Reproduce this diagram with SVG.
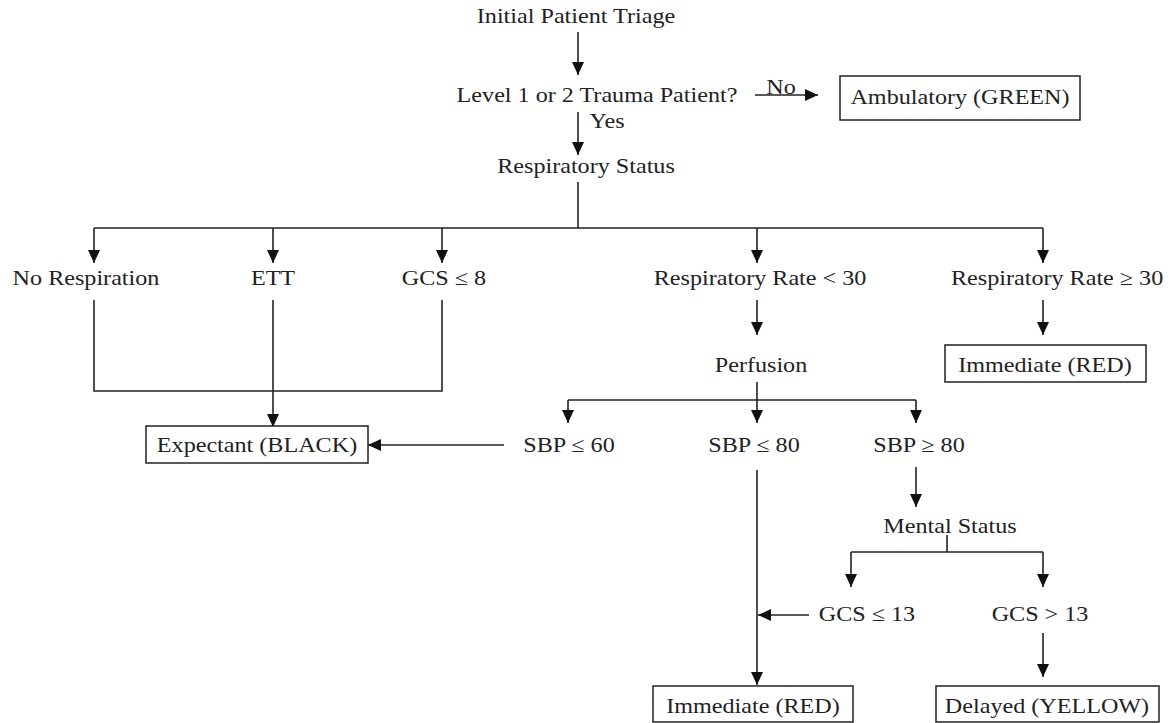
<svg xmlns="http://www.w3.org/2000/svg" width="1174" height="723" viewBox="0 0 1174 723">
<style>
.t{font-family:"Liberation Serif","Times New Roman",serif;font-size:21px;fill:#222;text-anchor:middle}
.s{text-anchor:start}
.box{fill:#fff;stroke:#222;stroke-width:1.5}
.c path{fill:none;stroke:#222;stroke-width:1.6}
.c .a{marker-end:url(#ah)}
</style>
<defs>
<marker id="ah" markerUnits="userSpaceOnUse" markerWidth="14" markerHeight="13" refX="13" refY="6" orient="auto">
<path d="M0,0 L13,6 L0,12 z" fill="#111"/>
</marker>
</defs>
<rect width="1174" height="723" fill="#fff"/>
<g id="connectors" class="c">
<path class="a" d="M578,32 V75"/>
<path class="a" d="M755,95 H818"/>
<path class="a" d="M578,112 V155"/>
<path d="M578,182 V228"/>
<path d="M94,228 H1043"/>
<path class="a" d="M94,228 V263"/>
<path class="a" d="M273,228 V263"/>
<path class="a" d="M442,228 V263"/>
<path class="a" d="M757,228 V263"/>
<path class="a" d="M1043,228 V263"/>
<path d="M94,300 V391 H442 V300"/>
<path class="a" d="M273,300 V427"/>
<path class="a" d="M504,445 H368"/>
<path class="a" d="M757,300 V335"/>
<path class="a" d="M1043,300 V335"/>
<path d="M757,382 V400"/>
<path d="M568,400 H916"/>
<path class="a" d="M568,400 V423"/>
<path class="a" d="M757,400 V423"/>
<path class="a" d="M916,400 V423"/>
<path class="a" d="M757,470 V685"/>
<path class="a" d="M916,467 V507"/>
<path d="M947,535 V552"/>
<path d="M851,552 H1043"/>
<path class="a" d="M851,552 V587"/>
<path class="a" d="M1043,552 V587"/>
<path class="a" d="M809,615 H758"/>
<path class="a" d="M1043,633 V677"/>
<text class="t" transform="translate(781,94) scale(1.15,1)">No</text>
<text class="t" transform="translate(607,128) scale(1.15,1)">Yes</text>
</g>
<g id="n-triage"><text class="t" transform="translate(576,23) scale(1.15,1)">Initial Patient Triage</text></g>
<g id="n-level"><text class="t" transform="translate(597,102) scale(1.15,1)">Level 1 or 2 Trauma Patient?</text></g>
<g id="n-ambulatory"><rect class="box" x="840" y="76" width="240" height="44"/><text class="t" transform="translate(960,104) scale(1.15,1)">Ambulatory (GREEN)</text></g>
<g id="n-resp"><text class="t" transform="translate(586,173) scale(1.15,1)">Respiratory Status</text></g>
<g id="n-norsp"><text class="t" transform="translate(86,285) scale(1.15,1)">No Respiration</text></g>
<g id="n-ett"><text class="t" transform="translate(273,285) scale(1.15,1)">ETT</text></g>
<g id="n-gcs8"><text class="t" transform="translate(444,285) scale(1.15,1)">GCS ≤ 8</text></g>
<g id="n-rrlt"><text class="t" transform="translate(760,285) scale(1.15,1)">Respiratory Rate &lt; 30</text></g>
<g id="n-rrge"><text class="t s" transform="translate(951,285) scale(1.15,1)">Respiratory Rate ≥ 30</text></g>
<g id="n-immediate1"><rect class="box" x="945" y="345" width="201" height="37"/><text class="t" transform="translate(1045,372) scale(1.15,1)">Immediate (RED)</text></g>
<g id="n-perfusion"><text class="t" transform="translate(761,372) scale(1.15,1)">Perfusion</text></g>
<g id="n-expectant"><rect class="box" x="146" y="426" width="222" height="37"/><text class="t" transform="translate(257,452) scale(1.15,1)">Expectant (BLACK)</text></g>
<g id="n-sbp60"><text class="t" transform="translate(569,452) scale(1.15,1)">SBP ≤ 60</text></g>
<g id="n-sbp80"><text class="t" transform="translate(754,452) scale(1.15,1)">SBP ≤ 80</text></g>
<g id="n-sbpge80"><text class="t" transform="translate(919,452) scale(1.15,1)">SBP ≥ 80</text></g>
<g id="n-mental"><text class="t" transform="translate(950,533) scale(1.15,1)">Mental Status</text></g>
<g id="n-gcs13"><text class="t" transform="translate(867,621) scale(1.15,1)">GCS ≤ 13</text></g>
<g id="n-gcsgt13"><text class="t" transform="translate(1040,621) scale(1.15,1)">GCS &gt; 13</text></g>
<g id="n-immediate2"><rect class="box" x="653" y="686" width="200" height="36"/><text class="t" transform="translate(753,713) scale(1.15,1)">Immediate (RED)</text></g>
<g id="n-delayed"><rect class="box" x="936" y="686" width="223" height="36"/><text class="t" transform="translate(1047,713) scale(1.15,1)">Delayed (YELLOW)</text></g>
</svg>
